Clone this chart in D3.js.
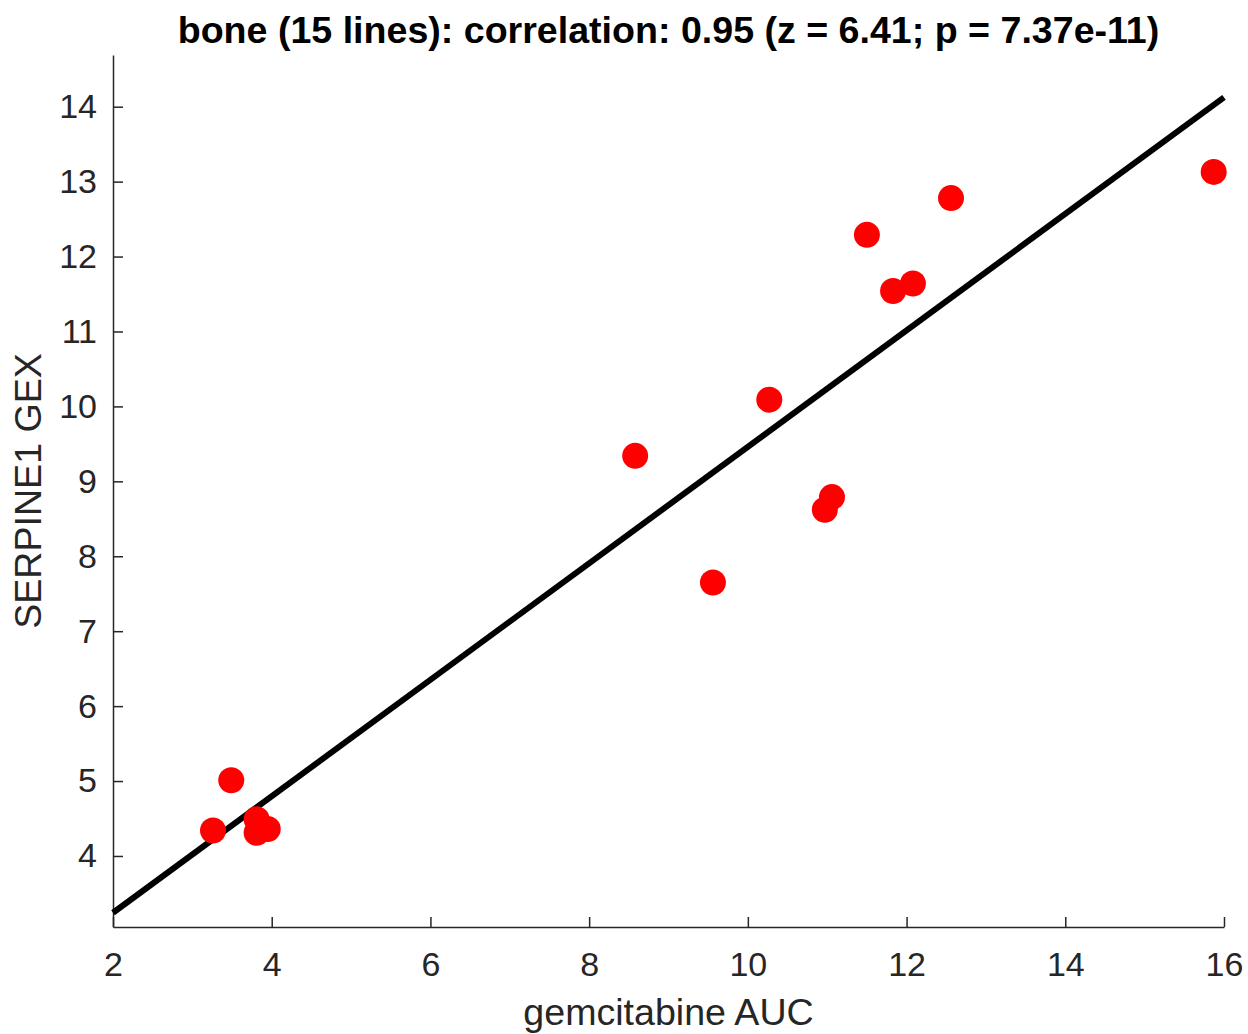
<!DOCTYPE html>
<html>
<head>
<meta charset="utf-8">
<script src="https://cdn.jsdelivr.net/npm/d3@7"></script>
<style>
	body { margin: 0; background: #fff; }
	text { font-family: "Liberation Sans", Arial, sans-serif; }
</style>
</head>
<body>
<div id="chart"></div>
<script>
// gemcitabine AUC vs SERPINE1 expression, bone lines
var aucValues = [3.26, 3.49, 3.81, 3.95, 3.81, 8.58, 9.56, 10.27, 10.97, 11.06, 11.50, 11.83, 12.08, 12.56, 15.87];
var gexValues = [4.34, 5.01, 4.31, 4.36, 4.49, 9.34, 7.65, 10.09, 8.62, 8.79, 12.29, 11.54, 11.64, 12.78, 13.13];
var xTicks = [2, 4, 6, 8, 10, 12, 14, 16];
var yTicks = [4, 5, 6, 7, 8, 9, 10, 11, 12, 13, 14];
var xDomain = [2, 16];
var yDomain = [3.052, 14.69];

var titleText = "bone (15 lines): correlation: 0.95 (z = 6.41; p = 7.37e-11)";
var xLabel = "gemcitabine AUC";
var yLabel = "SERPINE1 GEX";

(function() {
	var width = 1248,
		height = 1034,
		margin = { top: 55, right: 24, bottom: 107, left: 113 },
		axisColor = "#262626";

	var svg = d3.select("#chart").append("svg")
		.attr("width", width)
		.attr("height", height);

	var x = d3.scaleLinear().domain(xDomain).range([margin.left, width - margin.right]);
	var y = d3.scaleLinear().domain(yDomain).range([height - margin.bottom, margin.top]);

	var points = aucValues.map(function(v, i) { return { x: v, y: gexValues[i] }; });

	// least squares fit
	var mx = d3.mean(aucValues), my = d3.mean(gexValues);
	var sxy = d3.sum(points, function(d) { return (d.x - mx) * (d.y - my); });
	var sxx = d3.sum(points, function(d) { return (d.x - mx) * (d.x - mx); });
	var slope = sxy / sxx,
		intercept = my - slope * mx;

	// axes, ticks pointing inward
	var xAxis = svg.append("g")
		.attr("transform", "translate(0," + y.range()[0] + ")")
		.call(d3.axisBottom(x).tickValues(xTicks).tickSizeInner(-10).tickSizeOuter(0).tickPadding(25));
	var yAxis = svg.append("g")
		.attr("transform", "translate(" + x.range()[0] + ",0)")
		.call(d3.axisLeft(y).tickValues(yTicks).tickSizeInner(-10).tickSizeOuter(0).tickPadding(16));

	[xAxis, yAxis].forEach(function(g) {
		g.select(".domain").attr("stroke", axisColor).attr("stroke-width", 1.5);
		g.selectAll(".tick line").attr("stroke", axisColor).attr("stroke-width", 1.5);
		g.selectAll(".tick text")
			.attr("fill", axisColor)
			.style("font-size", "34px")
			.style("font-family", "'Liberation Sans', Arial, sans-serif");
	});
	xAxis.selectAll(".tick text").attr("dy", "0.71em");

	// fit line
	svg.append("line")
		.attr("x1", x(xDomain[0]))
		.attr("y1", y(intercept + slope * xDomain[0]))
		.attr("x2", x(xDomain[1]))
		.attr("y2", y(intercept + slope * xDomain[1]))
		.attr("stroke", "#000")
		.attr("stroke-width", 6);

	svg.append("g")
		.selectAll("circle")
		.data(points)
		.enter()
		.append("circle")
		.attr("cx", function(d) { return x(d.x); })
		.attr("cy", function(d) { return y(d.y); })
		.attr("r", 13)
		.attr("fill", "#ff0000");

	svg.append("text")
		.attr("x", (x.range()[0] + x.range()[1]) / 2)
		.attr("y", 43)
		.attr("text-anchor", "middle")
		.style("font-size", "37.6px")
		.style("font-weight", "bold")
		.attr("fill", "#000")
		.text(titleText);

	svg.append("text")
		.attr("x", (x.range()[0] + x.range()[1]) / 2)
		.attr("y", 1025)
		.attr("text-anchor", "middle")
		.style("font-size", "37.6px")
		.attr("fill", axisColor)
		.text(xLabel);

	svg.append("text")
		.attr("transform", "translate(41," + ((y.range()[0] + y.range()[1]) / 2) + ") rotate(-90)")
		.attr("text-anchor", "middle")
		.style("font-size", "37.6px")
		.attr("fill", axisColor)
		.text(yLabel);
}());
</script>
</body>
</html>
